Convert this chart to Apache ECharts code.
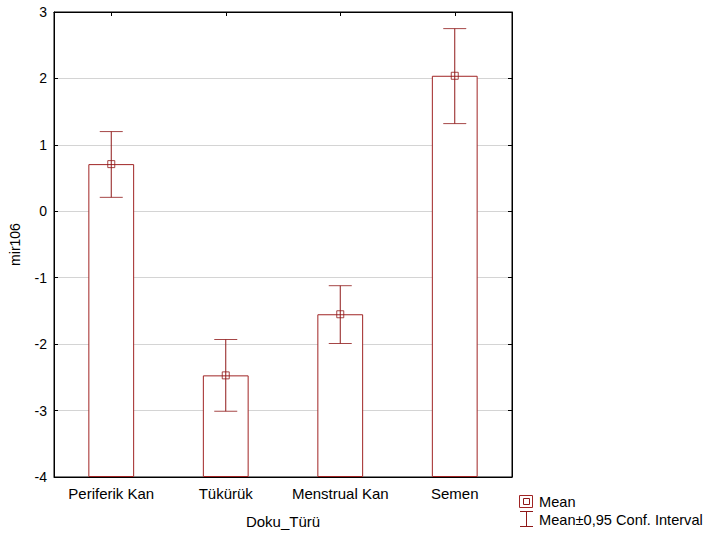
<!DOCTYPE html>
<html>
<head>
<meta charset="utf-8">
<script src="https://cdn.jsdelivr.net/npm/echarts@6/dist/echarts.min.js"></script>
<style>html,body{margin:0;padding:0;background:#fff}#c{width:708px;height:534px}</style>
</head>
<body>
<div id="c"></div>
<script>
var categories = ['Periferik Kan', 'Tükürük', 'Menstrual Kan', 'Semen'];
var means = [0.71, -2.47, -1.55, 2.04];
var ciLow = [0.21, -3.01, -1.99, 1.32];
var ciHigh = [1.20, -1.93, -1.12, 2.75];
var yTicks = [-4, -3, -2, -1, 0, 1, 2, 3];

var RED = '#8f1818';
var BAR = '#a02424';
var FONT = 'Liberation Sans, Arial, sans-serif';
var yMin = yTicks[0], yMax = yTicks[yTicks.length - 1];

var chart = echarts.init(document.getElementById('c'), null, {renderer: 'svg'});

// stacking: transparent base from 0 down to axis min, then visible bar from axis min up to the mean
var baseData = categories.map(function () { return yMin; });
var barData = means.map(function (m) { return m - yMin; });
var meanPts = categories.map(function (c, i) { return [i, means[i]]; });
var capPts = [];
var stemPts = [];
categories.forEach(function (c, i) {
  capPts.push([i, ciLow[i]]); capPts.push([i, ciHigh[i]]);
  stemPts.push([i, ciLow[i]]); stemPts.push([i, ciHigh[i]]); stemPts.push([i, '-']);
});

var option = {
  animation: false,
  grid: {left: 52, right: 196, top: 12, bottom: 57, show: true, borderColor: '#000', borderWidth: 1, backgroundColor: 'transparent'},
  xAxis: [{
    type: 'category', data: categories, position: 'bottom',
    axisLine: {show: true, onZero: false, lineStyle: {color: '#000'}},
    axisTick: {show: true, inside: true, alignWithLabel: true, length: 4, lineStyle: {color: '#000'}},
    axisLabel: {color: '#000', fontSize: 15, fontFamily: FONT, margin: 9, interval: 0},
    name: 'Doku_Türü', nameLocation: 'middle', nameGap: 37,
    nameTextStyle: {color: '#000', fontSize: 15, fontFamily: FONT}
  }, {
    type: 'category', data: categories, position: 'top',
    axisLine: {show: true, onZero: false, lineStyle: {color: '#000'}},
    axisTick: {show: true, inside: true, alignWithLabel: true, length: 4, lineStyle: {color: '#000'}},
    axisLabel: {show: false}
  }],
  yAxis: [{
    type: 'value', min: yMin, max: yMax, interval: 1, position: 'left',
    axisLine: {show: true, onZero: false, lineStyle: {color: '#000'}},
    axisTick: {show: true, inside: true, length: 4, lineStyle: {color: '#000'}},
    axisLabel: {color: '#000', fontSize: 14, fontFamily: FONT, margin: 7},
    splitLine: {show: true, lineStyle: {color: '#d4d4d4', width: 1}},
    name: 'mir106', nameLocation: 'middle', nameGap: 32, nameRotate: 90,
    nameTextStyle: {color: '#000', fontSize: 14, fontFamily: FONT}
  }, {
    type: 'value', min: yMin, max: yMax, interval: 1, position: 'right',
    axisLine: {show: true, onZero: false, lineStyle: {color: '#000'}},
    axisTick: {show: true, inside: true, length: 4, lineStyle: {color: '#000'}},
    axisLabel: {show: false}, splitLine: {show: false}
  }],
  series: [{
    type: 'bar', name: 'base', stack: 'b', stackStrategy: 'all',
    data: baseData, barWidth: '40%',
    itemStyle: {color: 'rgba(0,0,0,0)', borderWidth: 0},
    silent: true, z: 1
  }, {
    type: 'bar', name: 'bars', stack: 'b', stackStrategy: 'all',
    data: barData, barWidth: '40%',
    itemStyle: {color: '#fff', borderColor: BAR, borderWidth: 1},
    silent: true, z: 2
  }, {
    type: 'line', name: 'stem', data: stemPts,
    symbol: 'none', connectNulls: false,
    lineStyle: {color: RED, width: 1},
    silent: true, z: 3
  }, {
    type: 'scatter', name: 'caps', data: capPts,
    symbol: 'rect', symbolSize: [23, 1],
    itemStyle: {color: RED},
    silent: true, z: 3
  }, {
    type: 'scatter', name: 'Mean', data: meanPts,
    symbol: 'rect', symbolSize: 7,
    itemStyle: {color: 'rgba(255,255,255,0)', borderColor: RED, borderWidth: 1},
    silent: true, z: 4
  }],
  graphic: [
    {type: 'rect', shape: {x: 519.5, y: 495.5, width: 13, height: 12}, style: {fill: '#fff', stroke: BAR, lineWidth: 1}},
    {type: 'rect', shape: {x: 523.5, y: 498.5, width: 6, height: 6}, style: {fill: '#fff', stroke: RED, lineWidth: 1}},
    {type: 'text', x: 539, y: 502, style: {text: 'Mean', fill: '#000', fontSize: 14.6, fontFamily: FONT, verticalAlign: 'middle'}},
    {type: 'line', shape: {x1: 526.5, y1: 511, x2: 526.5, y2: 527}, style: {stroke: RED, lineWidth: 1}},
    {type: 'line', shape: {x1: 520, y1: 511.5, x2: 533, y2: 511.5}, style: {stroke: RED, lineWidth: 1}},
    {type: 'line', shape: {x1: 520, y1: 526.5, x2: 533, y2: 526.5}, style: {stroke: RED, lineWidth: 1}},
    {type: 'text', x: 539, y: 520, style: {text: 'Mean±0,95 Conf. Interval', fill: '#000', fontSize: 14.6, fontFamily: FONT, verticalAlign: 'middle'}}
  ]
};
chart.setOption(option);
</script>
</body>
</html>
